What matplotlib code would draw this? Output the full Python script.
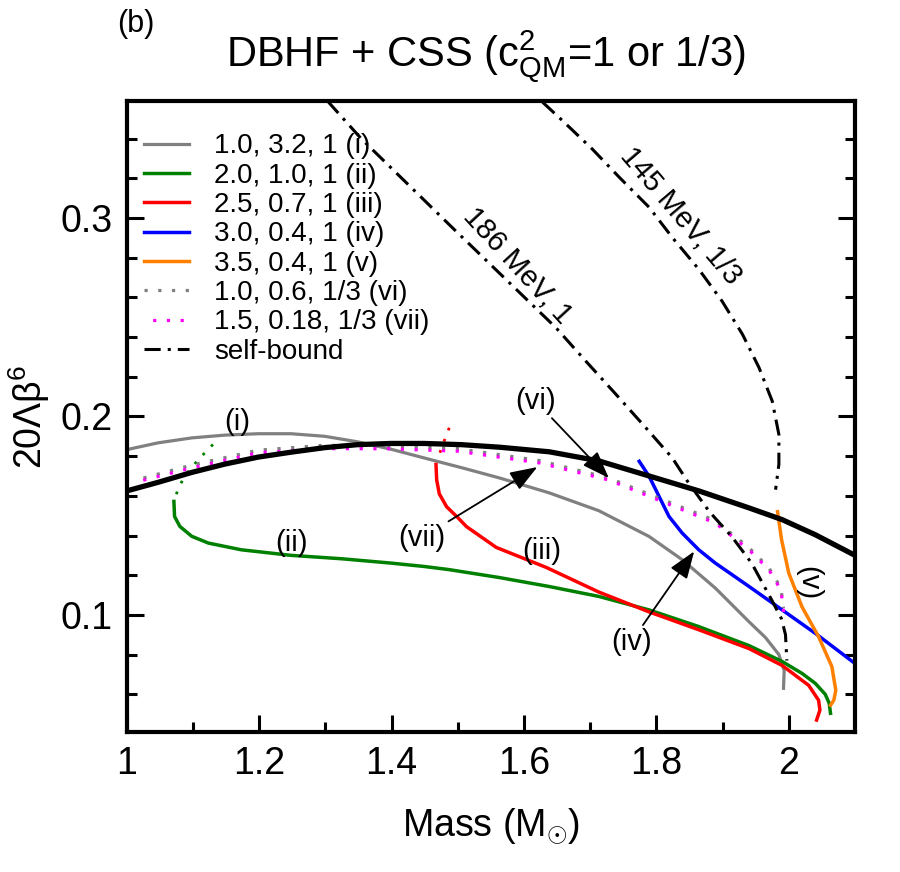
import matplotlib
matplotlib.use("Agg")
import matplotlib.pyplot as plt
import numpy as np

# ===================== DATOS =====================
# DBHF hadrónica (negra gruesa)
dbhf_m = [1.0, 1.047, 1.098, 1.148, 1.198, 1.248, 1.299, 1.349, 1.399, 1.449, 1.505,
          1.563, 1.638, 1.713, 1.789, 1.864, 1.940, 1.990, 2.040, 2.1]
dbhf_l = [0.1625, 0.1668, 0.1718, 0.1760, 0.1795, 0.1820, 0.1843, 0.1858, 0.1864, 0.1864,
          0.1858, 0.1845, 0.1822, 0.1776, 0.1700, 0.1625, 0.1539, 0.1480, 0.1404, 0.1300]

# (i) 1.0, 3.2, 1
i_m = [1.0, 1.047, 1.098, 1.148, 1.198, 1.248, 1.299, 1.349, 1.399, 1.449, 1.510, 1.563,
       1.638, 1.713, 1.789, 1.839, 1.889, 1.940, 1.965, 1.985, 1.993, 1.992]
i_l = [0.1833, 0.1867, 0.1892, 0.1906, 0.1913, 0.1913, 0.1900, 0.1872, 0.1835, 0.1791,
       0.1738, 0.1690, 0.1615, 0.1525, 0.1395, 0.1278, 0.1135, 0.0965, 0.0885, 0.0800,
       0.0720, 0.0630]

# (ii) 2.0, 1.0, 1  (parte punteada + rama sólida)
ii_dot_m = [1.130, 1.108, 1.087, 1.077, 1.072]
ii_dot_l = [0.1859, 0.1783, 0.1699, 0.1631, 0.1581]
ii_m = [1.071, 1.072, 1.080, 1.098, 1.123, 1.173, 1.248, 1.324, 1.399, 1.449, 1.487,
        1.563, 1.638, 1.713, 1.789, 1.864, 1.940, 1.990, 2.020, 2.040, 2.055, 2.061, 2.063]
ii_l = [0.1572, 0.1496, 0.1446, 0.1396, 0.1362, 0.1328, 0.1300, 0.1283, 0.1261, 0.1244,
        0.1228, 0.1188, 0.1143, 0.1093, 0.1025, 0.0941, 0.0845, 0.0765, 0.0705, 0.0655,
        0.0600, 0.0555, 0.0504]

# (iii) 2.5, 0.7, 1
iii_dot_m = [1.487, 1.478, 1.470]
iii_dot_l = [0.1943, 0.1865, 0.1791]
iii_m = [1.467, 1.468, 1.472, 1.483, 1.500, 1.513, 1.558, 1.633, 1.713, 1.789, 1.864,
         1.940, 1.990, 2.030, 2.045, 2.047, 2.042]
iii_l = [0.1758, 0.1680, 0.1610, 0.1545, 0.1490, 0.1445, 0.1340, 0.1240, 0.1115, 0.1015,
         0.0925, 0.0830, 0.0745, 0.0645, 0.0570, 0.0520, 0.0470]

# (iv) 3.0, 0.4, 1
iv_m = [1.774, 1.789, 1.804, 1.819, 1.839, 1.864, 1.889, 1.940, 1.990, 2.040, 2.100]
iv_l = [0.1774, 0.1698, 0.1597, 0.1496, 0.1412, 0.1328, 0.1261, 0.1143, 0.1025, 0.0907,
        0.0755]

# (v) 3.5, 0.4, 1
v_m = [1.983, 1.989, 2.000, 2.020, 2.045, 2.065, 2.071, 2.068, 2.063]
v_l = [0.152, 0.138, 0.121, 0.104, 0.089, 0.074, 0.062, 0.057, 0.0545]

# (vi) 1.0, 0.6, 1/3
vi_m = [1.025, 1.098, 1.198, 1.299, 1.399, 1.500, 1.623, 1.728, 1.814, 1.889, 1.940,
        1.970, 1.988, 1.992]
vi_l = [0.1690, 0.1755, 0.1830, 0.1855, 0.1850, 0.1838, 0.1778, 0.1690, 0.1575, 0.1475,
        0.1338, 0.1237, 0.1136, 0.1035]

# (vii) 1.5, 0.18, 1/3
vii_m = [1.012, 1.098, 1.198, 1.299, 1.399, 1.500, 1.623, 1.728, 1.814, 1.889, 1.940,
         1.970, 1.988, 1.992, 1.990]
vii_l = [0.1668, 0.1741, 0.1817, 0.1838, 0.1837, 0.1825, 0.1766, 0.1680, 0.1564, 0.1463,
         0.1328, 0.1227, 0.1126, 0.1025, 0.0975]

# Curvas autoligadas
sb186_m = [1.303, 1.354, 1.494, 1.648, 1.693, 1.739, 1.784, 1.824, 1.847, 1.880, 1.914,
           1.944, 1.974, 1.989, 1.995, 1.997]
sb186_l = [0.359, 0.340, 0.2944, 0.2448, 0.228, 0.2111, 0.1943, 0.1791, 0.1673, 0.152,
           0.1394, 0.126, 0.1076, 0.098, 0.090, 0.077]
sb145_m = [1.628, 1.658, 1.703, 1.744, 1.789, 1.824, 1.864, 1.899, 1.930, 1.955, 1.975,
           1.985, 1.985, 1.980]
sb145_l = [0.3584, 0.3491, 0.3348, 0.3205, 0.3054, 0.2902, 0.2742, 0.2582, 0.2414, 0.2246,
           0.2077, 0.1909, 0.1758, 0.1631]

LEYENDAS = ["1.0, 3.2, 1 (i)", "2.0, 1.0, 1 (ii)", "2.5, 0.7, 1 (iii)", "3.0, 0.4, 1 (iv)",
            "3.5, 0.4, 1 (v)", "1.0, 0.6, 1/3 (vi)", "1.5, 0.18, 1/3 (vii)", "self-bound"]
# ======================================================================

FAMILIA = ["Liberation Sans", "DejaVu Sans"]
plt.rcParams["font.family"] = FAMILIA
plt.rcParams["mathtext.fontset"] = "custom"
plt.rcParams["mathtext.rm"] = "Liberation Sans"
plt.rcParams["mathtext.it"] = "Liberation Sans:italic"

GRIS = "#808080"
VERDE = "#008000"
ROJO = "#ff0000"
AZUL = "#0000ff"
NARANJA = "#ff8000"
MAGENTA = "#ff00ff"

puntos = (0, (1, 3.3))
dashdot = (0, (5.3, 2.3, 1, 2.3))

fig = plt.figure(figsize=(9, 8.72), dpi=100)
ax = fig.add_axes([0.141, 0.1606, 0.809, 0.7236])

l1, = ax.plot(i_m, i_l, color=GRIS, lw=2.3)
ax.plot(ii_dot_m, ii_dot_l, color=VERDE, lw=2.0, ls=puntos)
l2, = ax.plot(ii_m, ii_l, color=VERDE, lw=2.5)
ax.plot(iii_dot_m, iii_dot_l, color=ROJO, lw=2.0, ls=puntos)
l3, = ax.plot(iii_m, iii_l, color=ROJO, lw=2.5)
l4, = ax.plot(iv_m, iv_l, color=AZUL, lw=2.5)
l5, = ax.plot(v_m, v_l, color=NARANJA, lw=2.5)
l6, = ax.plot(vi_m, vi_l, color=GRIS, lw=2.3, ls=puntos)
l7, = ax.plot(vii_m, vii_l, color=MAGENTA, lw=2.3, ls=(1.6, (1, 3.3)))
l8, = ax.plot(sb186_m, sb186_l, color="k", lw=2.2, ls=dashdot)
ax.plot(sb145_m, sb145_l, color="k", lw=2.2, ls=dashdot)
ax.plot(dbhf_m, dbhf_l, color="k", lw=3.8, solid_capstyle="butt")

ax.set_xlim(1.0, 2.1)
ax.set_ylim(0.041, 0.359)
ax.set_xticks([1, 1.2, 1.4, 1.6, 1.8, 2])
ax.set_xticklabels(["1", "1.2", "1.4", "1.6", "1.8", "2"])
ax.set_xticks(np.arange(1.1, 2.1, 0.2), minor=True)
ax.set_yticks([0.1, 0.2, 0.3])
ax.set_yticks([0.06, 0.08, 0.12, 0.14, 0.16, 0.18, 0.22, 0.24, 0.26, 0.28, 0.32, 0.34], minor=True)
ax.tick_params(which="both", direction="in", right=True, top=False, width=2.2,
               labelsize=27, pad=10)
ax.tick_params(which="major", length=12)
ax.tick_params(which="minor", length=7)
for s in ax.spines.values():
    s.set_linewidth(3)

ax.set_xlabel(r"Mass (M$_{\odot}$)", fontsize=27, labelpad=18)
ax.set_ylabel(r"20Λβ$^{6}$", fontsize=27)
ax.yaxis.set_label_coords(-0.103, 0.5)
fig.text(0.54, 0.935, r"DBHF + CSS (c$^{2}_{\mathregular{QM}}$=1 or 1/3)", fontsize=30,
         ha="center", va="center")
fig.text(0.151, 0.972, "(b)", fontsize=22, ha="center", va="center")

ax.legend([l1, l2, l3, l4, l5, l6, l7, l8], LEYENDAS, loc="upper left",
          bbox_to_anchor=(0.0, 0.975), frameon=False, handlelength=1.65,
          handletextpad=0.9, labelspacing=0.12, borderaxespad=0.2,
          prop={"size": 20})

etiq = dict(fontsize=21, ha="center", va="center")
ax.text(1.166, 0.197, "(i)", **etiq)
ax.text(1.249, 0.136, "(ii)", **etiq)
ax.text(1.626, 0.132, "(iii)", **etiq)
ax.text(2.03, 0.116, "(v)", rotation=-90, **etiq)
ax.text(1.590, 0.2758, "186 MeV, 1", rotation=-47.5, **etiq)
ax.text(1.837, 0.301, "145 MeV, 1/3", rotation=-49.5, **etiq)

flecha = dict(arrowstyle="-|>,head_length=0.6,head_width=0.22", color="k", lw=1.3,
              mutation_scale=28, shrinkA=0, shrinkB=0)
ax.annotate("(vi)", xy=(1.728, 0.169), xytext=(1.618, 0.2076), arrowprops=flecha, **etiq)
ax.annotate("(vii)", xy=(1.620, 0.1745), xytext=(1.446, 0.139), arrowprops=flecha, **etiq)
ax.annotate("(iv)", xy=(1.857, 0.132), xytext=(1.762, 0.0864), arrowprops=flecha, **etiq)

fig.savefig("out.png", dpi=100)
